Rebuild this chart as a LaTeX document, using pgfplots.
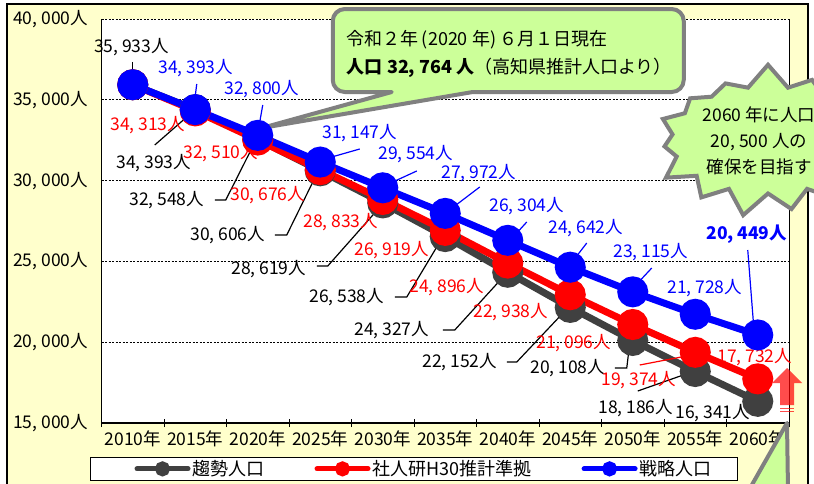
\documentclass[border=0pt]{standalone}
\usepackage{fontspec}
\setmainfont{Noto Sans CJK JP}
\usepackage{pgfplots}
\usepackage{pgfplotstable}
\pgfplotsset{compat=1.18}
\usetikzlibrary{shapes.symbols}
\definecolor{trend}{HTML}{404040}
\definecolor{bgyellow}{HTML}{FFFFCC}
\definecolor{callgreen}{HTML}{CCFF99}
\definecolor{callgray}{HTML}{808080}
\definecolor{myred}{HTML}{FF0000}
\definecolor{myblue}{HTML}{0000FF}
\newcommand{\thsep}{,\kern.22em}
\pgfplotstableread{
x trend shajinken senryaku
0 35933 35933 35933
1 34393 34313 34393
2 32548 32510 32800
3 30606 30676 31147
4 28619 28833 29554
5 26538 26919 27972
6 24327 24896 26304
7 22152 22938 24642
8 20108 21096 23115
9 18186 19374 21728
10 16341 17732 20449
}\datatable
\begin{document}
\begin{tikzpicture}[
  lbl/.style={font=\fontsize{17.5}{21}\selectfont, inner sep=0pt, anchor=center},
  bk/.style={lbl, text=black},
  rd/.style={lbl, text=myred},
  bl/.style={lbl, text=myblue},
  ld/.style={black, line width=1.2pt},
  ldr/.style={myred, line width=1.2pt},
  ldb/.style={myblue, line width=1.2pt}]
\path[use as bounding box] (0,0) rectangle (814pt,483pt);
\clip (0,0) rectangle (814pt,483pt);
\begin{scope}[x=1pt,y=-1pt,shift={(0pt,483pt)}]
  \fill[bgyellow] (7,4) rectangle (808,510);
  \draw[black, line width=2pt] (7,4) rectangle (808,510);
\end{scope}
\begin{axis}[
  at={(101.5pt,60pt)}, anchor=south west,
  scale only axis, width=687.5pt, height=404pt,
  xmin=-0.5, xmax=10.5, ymin=15000, ymax=40000,
  clip=false,
  scaled y ticks=false,
  axis x line*=bottom, axis y line*=left,
  axis line style={black, line width=1.2pt},
  xtick={0,...,10},
  xticklabels={2010年,2015年,2020年,2025年,2030年,2035年,2040年,2045年,2050年,2055年,2060年},
  minor xtick={-0.5,0.5,...,10.5},
  major x tick style={draw=none},
  minor x tick style={black, line width=1pt},
  minor tick length=8pt,
  major tick length=0pt,
  tick align=center,
  ytick={15000,20000,...,40000},
  yticklabels={{15\thsep000人},{20\thsep000人},{25\thsep000人},{30\thsep000人},{35\thsep000人},{40\thsep000人}},
  ymajorgrids,
  major grid style={black, line width=0.6pt, dash pattern=on 2pt off 1.5pt},
  axis background/.style={fill=white},
  tick label style={font=\fontsize{17.5}{21}\selectfont},
  yticklabel style={anchor=east, xshift=-10pt},
  xticklabel style={anchor=north, yshift=-4pt},
  legend columns=3,
  legend style={at={(-0.0167,-0.0842)}, anchor=north west, draw=black, line width=1pt, fill=white,
    font=\fontsize{18}{21}\selectfont, inner xsep=44pt, inner ysep=1pt,
    /tikz/every even column/.append style={column sep=48pt}},
  legend image code/.code={
    \draw[mark repeat=2, mark phase=2, #1, line width=5pt, line cap=round, mark size=5pt]
      plot coordinates {(2.5pt,0pt) (28pt,0pt) (53.5pt,0pt)};},
]
% right border of the plot area
\draw[black, line width=0.8pt] (axis cs:10.5,15000) -- (axis cs:10.5,40000);
% top callout (drawn under the series)
\draw[callgray, line width=4pt, fill=callgreen, line join=round]
  (axis cs:4.144,35482) -- (axis cs:2.064,33255) -- (axis cs:5.44,35482)
  [rounded corners=12pt] -- (axis cs:8.816,35482) -- (axis cs:8.816,40618)
  -- (axis cs:3.2,40618) -- (axis cs:3.2,35482) [sharp corners] -- cycle;
\node[lbl, anchor=west, font=\fontsize{18}{21}\selectfont] at (axis cs:3.424,38700)
  {令和２年\kern3pt(2020 年)\kern3pt６月１日現在};
\node[lbl, anchor=west, font=\fontsize{18}{21}\selectfont] at (axis cs:3.424,36967)
  {{\bfseries 人口 32\thsep764 人}（高知県推計人口より）};

\addplot[trend, line width=7pt, mark=*, mark size=12pt] table[x=x, y=trend] {\datatable};
\addlegendentry{趨勢人口}
\addplot[myred, line width=7pt, mark=*, mark size=12pt] table[x=x, y=shajinken] {\datatable};
\addlegendentry{社人研H30推計準拠}
\addplot[myblue, line width=7pt, mark=*, mark size=12pt] table[x=x, y=senryaku] {\datatable};
\addlegendentry{戦略人口\kern-20pt}

% black labels
\node[bk] at (axis cs:-0.02,38267) {35\thsep933人};
\draw[ld] (axis cs:0,37340) -- (axis cs:0,36040);
\node[bk] at (axis cs:0.336,31089) {34\thsep393人};
\draw[ld] (axis cs:0.352,32203) -- (axis cs:0.992,34368);
\node[bk] at (axis cs:0.544,28799) {32\thsep548人};
\draw[ld] (axis cs:1.312,28799) -- (axis cs:1.488,28799) -- (axis cs:1.984,32600);
\node[bk] at (axis cs:1.52,26633) {30\thsep606人};
\draw[ld] (axis cs:2.272,26633) -- (axis cs:2.464,26633) -- (axis cs:2.96,30532);
\node[bk] at (axis cs:2.176,24530) {28\thsep619人};
\draw[ld] (axis cs:2.944,24715) -- (axis cs:3.12,24715) -- (axis cs:3.984,28490);
\node[bk] at (axis cs:3.424,22797) {26\thsep538人};
\draw[ld] (axis cs:4.192,22797) -- (axis cs:4.384,22797) -- (axis cs:4.96,26510);
\node[bk] at (axis cs:4.144,20755) {24\thsep327人};
\draw[ld] (axis cs:4.96,20755) -- (axis cs:5.152,20755) -- (axis cs:5.984,24282);
\node[bk] at (axis cs:5.232,18775) {22\thsep152人};
\draw[ld] (axis cs:5.984,18775) -- (axis cs:6.144,18775) -- (axis cs:6.96,22116);
\node[bk] at (axis cs:6.96,18403) {20\thsep108人};
\draw[ld] (axis cs:7.712,18403) -- (axis cs:7.904,18403) -- (axis cs:7.952,19950);
\node[bk] at (axis cs:8.048,15928) {18\thsep186人};
\draw[ld] (axis cs:8.08,16980) -- (axis cs:8.944,18156);
\node[bk] at (axis cs:9.28,15619) {16\thsep341人};

% red labels
\node[rd] at (axis cs:0.24,33440) {34\thsep313人};
\node[rd] at (axis cs:1.408,31708) {32\thsep510人};
\node[rd] at (axis cs:2.16,29109) {30\thsep676人};
\node[rd] at (axis cs:3.328,27438) {28\thsep833人};
\node[rd] at (axis cs:4.144,25705) {26\thsep919人};
\node[rd] at (axis cs:5.024,23416) {24\thsep896人};
\node[rd] at (axis cs:6.048,21869) {22\thsep938人};
\node[rd] at (axis cs:7.056,19950) {21\thsep096人};
\node[rd] at (axis cs:8.096,17661) {19\thsep374人};
\draw[ldr] (axis cs:8.112,18589) -- (axis cs:8.944,19208);
\node[rd] at (axis cs:9.952,19084) {17\thsep732人};

% blue labels
\node[bl] at (axis cs:1.008,36967) {34\thsep393人};
\draw[ldb] (axis cs:1.024,35977) -- (axis cs:0.992,34987);
\node[bl] at (axis cs:2.064,35668) {32\thsep800人};
\draw[ldb] (axis cs:2.08,34678) -- (axis cs:2.032,33626);
\node[bl] at (axis cs:3.632,32945) {31\thsep147人};
\draw[ldb] (axis cs:3.632,31955) -- (axis cs:3.184,31460);
\node[bl] at (axis cs:4.528,31646) {29\thsep554人};
\draw[ldb] (axis cs:4.544,30594) -- (axis cs:4.16,29913);
\node[bl] at (axis cs:5.536,30470) {27\thsep972人};
\draw[ldb] (axis cs:5.552,29604) -- (axis cs:5.152,28428);
\node[bl] at (axis cs:6.304,28428) {26\thsep304人};
\draw[ldb] (axis cs:6.304,27438) -- (axis cs:6.144,26757);
\node[bl] at (axis cs:7.248,27067) {24\thsep642人};
\draw[ldb] (axis cs:7.264,26138) -- (axis cs:7.104,25334);
\node[bl] at (axis cs:8.288,25581) {23\thsep115人};
\draw[ldb] (axis cs:8.304,24591) -- (axis cs:8.08,23663);
\node[bl] at (axis cs:9.152,23354) {21\thsep728人};
\draw[ldb] (axis cs:9.152,22364) -- (axis cs:9.10,22178);
\node[bl, font=\fontsize{17.5}{21}\selectfont\bfseries] at (axis cs:9.824,26695) {20\thsep449人};
\draw[ldb] (axis cs:9.84,25705) -- (axis cs:9.936,20940);
\end{axis}
\begin{scope}[x=1pt,y=-1pt,shift={(0pt,483pt)}]
  % starburst callout
  \node[starburst, starburst points=15, starburst point height=24pt, random starburst=7,
        minimum width=240pt, minimum height=155pt, fill=callgreen, draw=callgray,
        line width=4pt, inner sep=0pt] at (768,140) {};
  \node[align=center, font=\fontsize{17.5}{26}\selectfont, inner sep=0pt] at (759,141)
    {2060 年に人口\\20\thsep500 人の\\確保を目指す};
  % red up arrow
  \fill[myred, opacity=0.7] (787,368) -- (802,383) -- (794,383) -- (794,405) -- (780,405) -- (780,383) -- (772,383) -- cycle;
  \fill[myred, opacity=0.7] (780,407.5) rectangle (794,409);
  \fill[myred, opacity=0.7] (780,410.5) rectangle (794,412);
  % bottom-right callout pointer
  \fill[callgreen] (787,423) -- (749,490) -- (788,490) -- cycle;
  \draw[callgray, line width=4pt, line join=round] (749,490) -- (787,423) -- (788,490);
\end{scope}
\end{tikzpicture}
\end{document}
